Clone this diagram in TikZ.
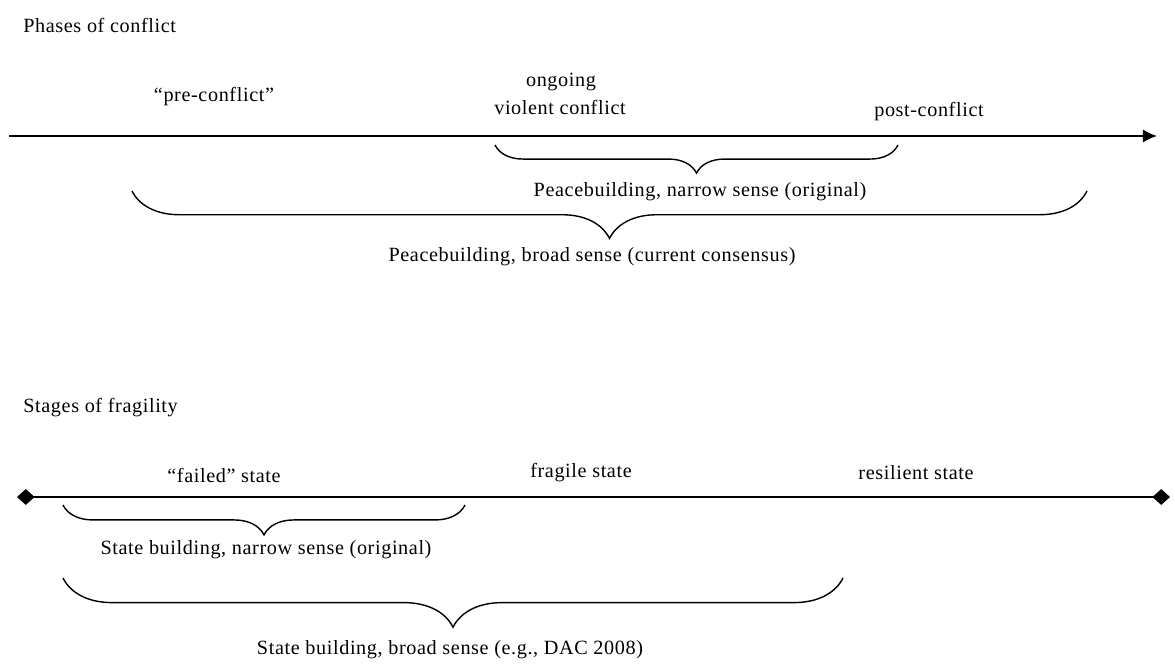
\documentclass[tikz,border=0pt]{standalone}
\usepackage{fontspec}
\setmainfont{Liberation Serif}[LetterSpace=3.0]
\usetikzlibrary{arrows.meta, decorations.pathreplacing}
\tikzset{
  lbl/.style={inner sep=0pt,font=\fontsize{11.5}{14}\selectfont},
  title/.style={lbl,anchor=west},
  axis/.style={line width=1pt},
  span/.style={decorate,decoration={brace,mirror,amplitude=#1},line width=0.8pt},
  span/.default=16pt
}
\begin{document}
\begin{tikzpicture}[x=0.02cm,y=-0.02cm]
\useasboundingbox (0,0) rectangle (1175,663);
% phases of conflict
\node[title] (phases) at (23,25) {Phases of conflict};
\coordinate (p0) at (9,136);
\coordinate (p1) at (1157,136);
\draw[axis,-{Latex[length=8pt,width=7.5pt]}] (p0) -- (p1);
\node[lbl] (pre) at (214,97) {“pre-conflict”};
\node[lbl] (ongoing) at (561,82) {ongoing};
\node[lbl] (violent) at (560,107) {violent conflict};
\node[lbl] (post) at (929,112) {post-conflict};
\coordinate (n0) at (495,145);
\coordinate (n1) at (898,145);
\draw[span=16pt] (n0) -- (n1);
\node[lbl] (narrow) at (700,192) {Peacebuilding, narrow sense (original)};
\coordinate (b0) at (132,191);
\coordinate (b1) at (1087,191);
\draw[span=27pt] (b0) -- (b1);
\node[lbl] (broad) at (592,257) {Peacebuilding, broad sense (current consensus)};
% stages of fragility
\node[title] (stages) at (23,408) {Stages of fragility};
\coordinate (s0) at (17,497);
\coordinate (s1) at (1170,497);
\draw[axis,{Turned Square[length=10pt,width=9pt]}-{Turned Square[length=10pt,width=9pt]}] (s0) -- (s1);
\node[lbl] (failed) at (224,475) {“failed” state};
\node[lbl] (fragile) at (581,473) {fragile state};
\node[lbl] (resilient) at (916,473) {resilient state};
\coordinate (f0) at (63,505);
\coordinate (f1) at (465,505);
\draw[span=17pt] (f0) -- (f1);
\node[lbl] (snarrow) at (266,550) {State building, narrow sense (original)};
\coordinate (g0) at (63,578);
\coordinate (g1) at (843,578);
\draw[span=28pt] (g0) -- (g1);
\node[lbl] (sbroad) at (450,650) {State building, broad sense (e.g., DAC 2008)};
\end{tikzpicture}
\end{document}
